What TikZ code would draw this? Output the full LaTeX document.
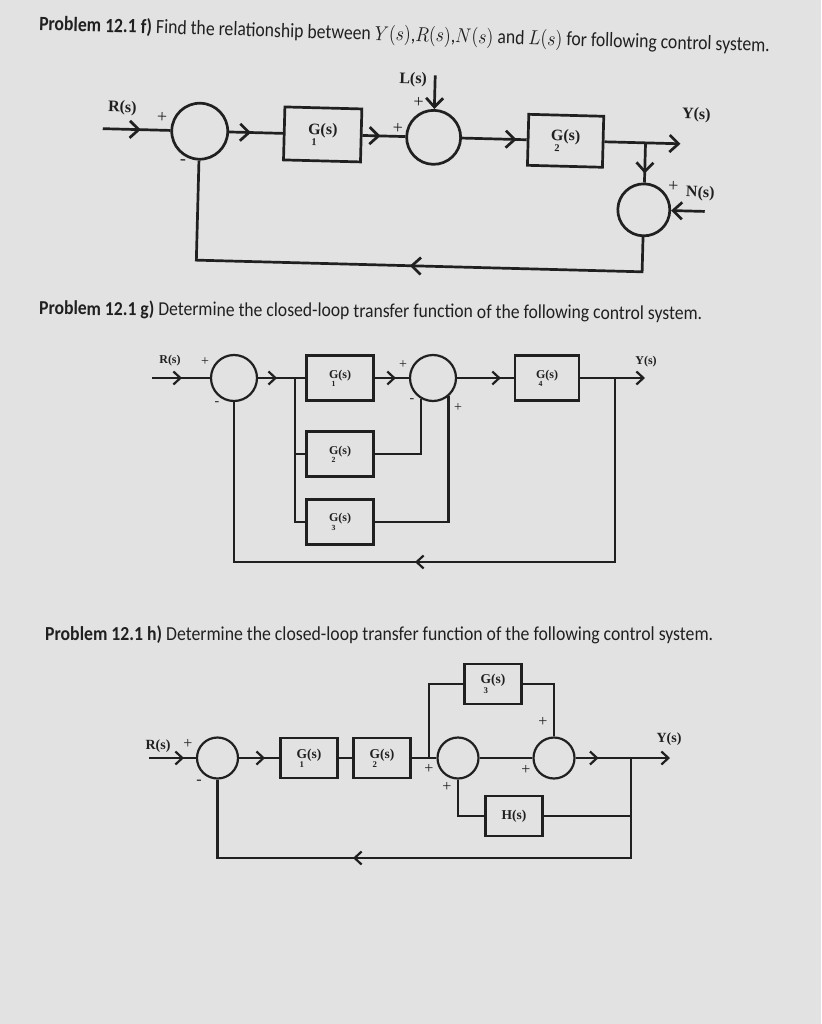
\documentclass[tikz,border=0pt]{standalone}
\usepackage{fontspec}
\usepackage{graphicx}
\setmainfont{Liberation Serif}
\newfontfamily\ttlfont{Carlito}
\usetikzlibrary{arrows.meta,decorations.markings}
\definecolor{paper}{RGB}{226,226,226}
\definecolor{ink}{RGB}{32,32,32}
\newcommand{\Gx}[1]{\ooalign{G\cr\hidewidth\raisebox{-0.69em}{\scalebox{0.65}{#1}}\hidewidth\cr}(s)}
\tikzset{
  wireF/.style={draw, color=ink, line width=2.7pt},
  wireG/.style={draw, color=ink, line width=2.2pt},
  arrF/.style={-{Straight Barb[length=9pt,width=17pt]}},
  arrG/.style={-{Straight Barb[length=7pt,width=13pt]}},
  midF/.style={postaction={decorate}, decoration={markings, mark=at position #1 with {\arrow{Straight Barb[length=9pt,width=17pt]}}}},
  midG/.style={postaction={decorate}, decoration={markings, mark=at position #1 with {\arrow{Straight Barb[length=7pt,width=13pt]}}}},
  sumF/.style={draw=ink, circle, line width=2.7pt, inner sep=0pt, minimum size=#1},
  sumG/.style={draw=ink, circle, line width=2.2pt, inner sep=0pt, minimum size=#1},
  blkF/.style={draw=ink, line width=2.7pt, inner sep=0pt, text=ink, font=\bfseries\fontsize{16}{18}\selectfont},
  blkG/.style={draw=ink, line width=2.2pt, inner sep=0pt, text=ink, minimum width=67pt, minimum height=45pt, font=\bfseries\fontsize{12}{14}\selectfont},
  blkH/.style={draw=ink, line width=2.2pt, inner sep=0pt, text=ink, minimum width=57pt, minimum height=40pt, font=\bfseries\fontsize{13.5}{15}\selectfont},
  lblF/.style={text=ink, inner sep=0pt, font=\bfseries\fontsize{16}{18}\selectfont},
  lblG/.style={text=ink, inner sep=0pt, font=\bfseries\fontsize{12}{14}\selectfont},
  lblH/.style={text=ink, inner sep=0pt, font=\bfseries\fontsize{14}{16}\selectfont},
  sgnF/.style={text=ink, inner sep=0pt, font=\fontsize{18}{18}\selectfont},
  sgnG/.style={text=ink, inner sep=0pt, font=\fontsize{14}{14}\selectfont},
  sgnH/.style={text=ink, inner sep=0pt, font=\fontsize{16}{16}\selectfont},
  ttl/.style={text=ink, inner sep=0pt, anchor=west},
}
\begin{document}
\begin{tikzpicture}[x=1pt,y=-1pt]
\fill[paper] (0,0) rectangle (821,1024);
\useasboundingbox (0,0) rectangle (821,1024);

% ---------- titles ----------
\node[ttl, rotate=-1.7] (tf) at (39,25) {\scalebox{1}[1.15]{\resizebox{731pt}{!}{\ttlfont\textbf{Problem 12.1 f)} Find the relationship between $Y(s)$,$R(s)$,$N(s)$ and $L(s)$ for following control system.}}};
\node[ttl, rotate=-0.45] (tg) at (39,309) {\scalebox{1}[1.12]{\resizebox{663pt}{!}{\ttlfont\textbf{Problem 12.1 g)} Determine the closed-loop transfer function of the following control system.}}};
\node[ttl] (th) at (45,635) {\scalebox{1}[1.12]{\resizebox{668pt}{!}{\ttlfont\textbf{Problem 12.1 h)} Determine the closed-loop transfer function of the following control system.}}};

% ---------- diagram f ----------
\begin{scope}[rotate around={-1.5:(420,200)}, transform shape]
\node[sumF=56pt] (f1) at (198,137) {};
\node[blkF, minimum width=77pt, minimum height=53pt] (fG1) at (321,137) {\Gx{1}};
\node[sumF=54pt] (f2) at (432,137) {};
\node[blkF, minimum width=75pt, minimum height=51pt] (fG2) at (564,137) {\Gx{2}};
\node[sumF=52pt] (f3) at (644,204) {};
\coordinate (fR) at (101,137);
\coordinate (fL) at (432,75);
\coordinate (fY) at (679,137);
\coordinate (fB) at (644,137);
\coordinate (fN) at (705,204);
\coordinate (fBL) at (198,266);
\node[lblF] (fRl) at (120,116) {R(s)};
\node[lblF] (fLl) at (410,80) {L(s)};
\node[lblF] (fYl) at (694,108) {Y(s)};
\node[lblF] (fNl) at (700,186) {N(s)};
\node[sgnF] (fp1) at (160,124) {+};
\node[sgnF] (fm1) at (182,168) {-};
\node[sgnF] (fp2) at (396,129) {+};
\node[sgnF] (fp3) at (416,103) {+};
\node[sgnF] (fp4) at (673,180) {+};
\draw[wireF, midF=38pt] (fR) -- (f1);
\draw[wireF, midF=22pt] (f1) -- (fG1);
\draw[wireF, midF=18pt] (fG1) -- (f2);
\draw[wireF, midF=-10pt] (f2) -- (fG2);
\draw[wireF, arrF] (fG2) -- (fY);
\draw[wireF, midF=-9pt] (fB) -- (f3);
\draw[wireF, arrF] (fL) -- (f2);
\draw[wireF, arrF] (fN) -- (f3);
\draw[wireF, midF=267pt] (f3) |- (fBL) -- (f1);
\end{scope}

% ---------- diagram g ----------
\node[sumG=46pt] (gA) at (234,378) {};
\node[blkG] (gG1) at (340,378) {\Gx{1}};
\node[blkG] (gG2) at (340,454) {\Gx{2}};
\node[blkG] (gG3) at (340,522) {\Gx{3}};
\node[sumG=46pt] (gB) at (433,378) {};
\node[blkG, minimum width=64pt] (gG4) at (547,378) {\Gx{4}};
\coordinate (gR) at (152,378);
\coordinate (gS) at (295,378);
\coordinate (gT) at (615,378);
\coordinate (gY) at (645,378);
\coordinate (gBL) at (234,562);
\node[lblG] (gRl) at (170,361) {R(s)};
\node[lblG] (gYl) at (646,362) {Y(s)};
\node[sgnG] (gp1) at (205,362) {+};
\node[sgnG] (gm1) at (217,404) {-};
\node[sgnG] (gp2) at (403,365) {+};
\node[sgnG] (gm2) at (412,401) {-};
\node[sgnG] (gp3) at (458,408) {+};
\draw[wireG, midG=30pt] (gR) -- (gA);
\draw[wireG, midG=19pt] (gA) -- (gG1);
\draw[wireG] (gS) |- (gG2);
\draw[wireG] (gS) |- (gG3);
\draw[wireG, midG=-13pt] (gG1) -- (gB);
\draw[wireG] (gG2) -| (gB.240);
\draw[wireG] (gG3) -| (gB.310);
\draw[wireG, midG=-13pt] (gB) -- (gG4);
\draw[wireG, arrG] (gG4) -- (gY);
\draw[wireG, midG=384pt] (gT) |- (gBL) -- (gA);

% ---------- diagram h ----------
\node[sumG=41pt] (hA) at (217.5,758) {};
\node[blkH] (hG1) at (309,758) {\Gx{1}};
\node[blkH] (hG2) at (382,758) {\Gx{2}};
\node[sumG=41pt] (hB) at (458,758) {};
\node[blkH] (hG3) at (493,684) {\Gx{3}};
\node[sumG=41pt] (hC) at (554,758) {};
\node[blkH] (hH) at (514,816) {H(s)};
\coordinate (hR) at (149,758);
\coordinate (hS) at (429,758);
\coordinate (hT) at (631,758);
\coordinate (hY) at (670,758);
\coordinate (hU) at (631,816);
\coordinate (hBL) at (217.5,858);
\node[lblH] (hRl) at (158,746) {R(s)};
\node[lblH] (hYl) at (669,739) {Y(s)};
\node[sgnH] (hp1) at (188,744) {+};
\node[sgnH] (hm1) at (199,782) {-};
\node[sgnH] (hp2) at (429,769) {+};
\node[sgnH] (hp3) at (447,787) {+};
\node[sgnH] (hp4) at (543,722) {+};
\node[sgnH] (hp5) at (526,770) {+};
\draw[wireG, midG=35pt] (hR) -- (hA);
\draw[wireG, midG=26pt] (hA) -- (hG1);
\draw[wireG] (hG1) -- (hG2);
\draw[wireG] (hG2) -- (hB);
\draw[wireG] (hS) |- (hG3);
\draw[wireG] (hG3) -| (hC);
\draw[wireG] (hB) -- (hC);
\draw[wireG, midG=23pt, arrG] (hC) -- (hY);
\draw[wireG] (hU) -- (hH);
\draw[wireG] (hH) -| (hB);
\draw[wireG, midG=378pt] (hT) |- (hBL) -- (hA);
\end{tikzpicture}
\end{document}
